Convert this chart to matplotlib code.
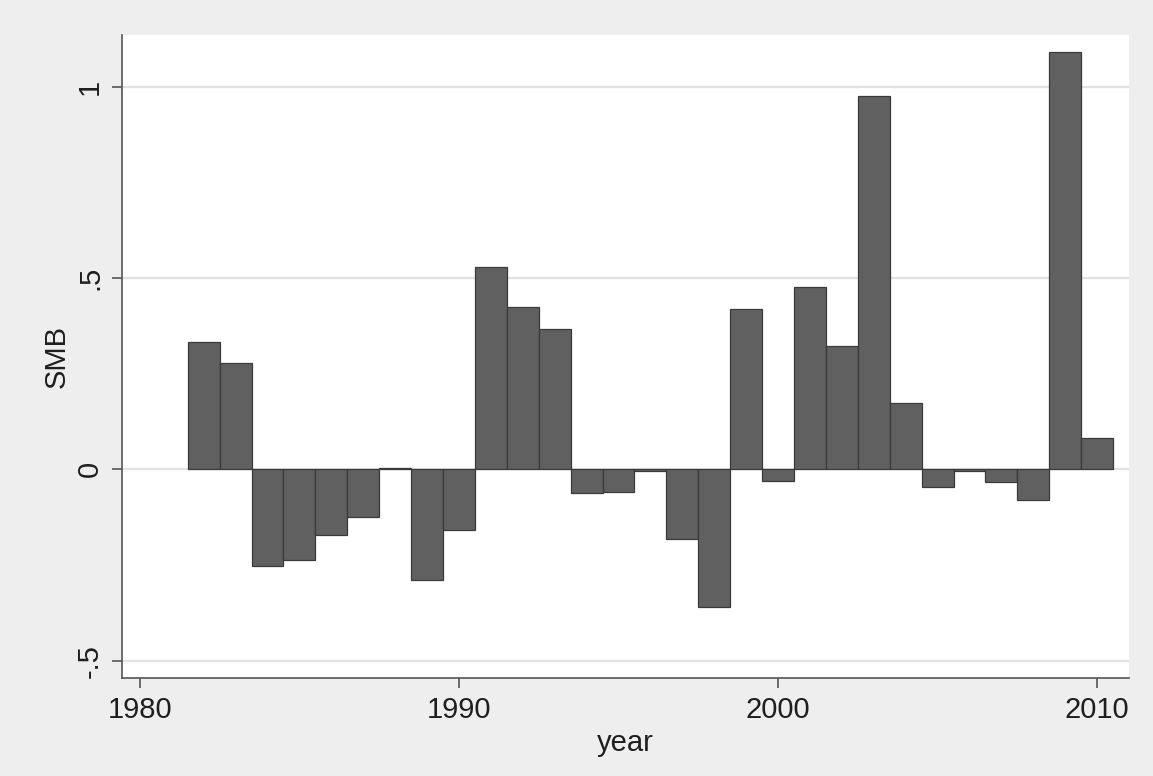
import numpy as np, matplotlib; matplotlib.use('Agg')
import matplotlib.pyplot as plt

years = list(range(1982, 2011))
smb = [0.332, 0.279, -0.254, -0.236, -0.172, -0.125, 0.004, -0.289, -0.159,
       0.529, 0.423, 0.366, -0.062, -0.059, -0.005, -0.182, -0.359, 0.418,
       -0.031, 0.477, 0.322, 0.975, 0.173, -0.045, -0.004, -0.034, -0.080,
       1.091, 0.082]
xticks = [1980, 1990, 2000, 2010]
yticks = [-0.5, 0, 0.5, 1]
ylabels = ['-.5', '0', '.5', '1']

plt.rcParams['font.family'] = ['Liberation Sans', 'DejaVu Sans']
fig = plt.figure(figsize=(11.53, 7.76), dpi=100, facecolor='#eeeeee')
ax = fig.add_axes([0.1058, 0.1267, 0.8734, 0.8282])
ax.set_facecolor('white')

ax.bar(years, smb, width=1.0, color='#606060', edgecolor='#3a3a3a', lw=0.9, zorder=3)

ax.set_xlim(1979.44, 2011.0); ax.set_ylim(-0.5446, 1.135)
ax.set_xticks(xticks); ax.set_yticks(yticks); ax.set_yticklabels(ylabels)
ax.grid(axis='y', color='#e2e2e2', lw=1.6, zorder=0)
for s in ('top', 'right'): ax.spines[s].set_visible(False)
for s in ('left', 'bottom'): ax.spines[s].set_color('#555555'); ax.spines[s].set_linewidth(1.2)
ax.tick_params(colors='#555555', labelcolor='#1e1e1e', length=7, width=1.2, labelsize=21, pad=6)
plt.setp(ax.get_yticklabels(), rotation=90, va='center')
ax.set_xlabel('year', fontsize=21, color='#1e1e1e', labelpad=4)
ax.set_ylabel('SMB', fontsize=21, color='#1e1e1e', labelpad=4)

fig.savefig('out.png', dpi=100, facecolor=fig.get_facecolor())
